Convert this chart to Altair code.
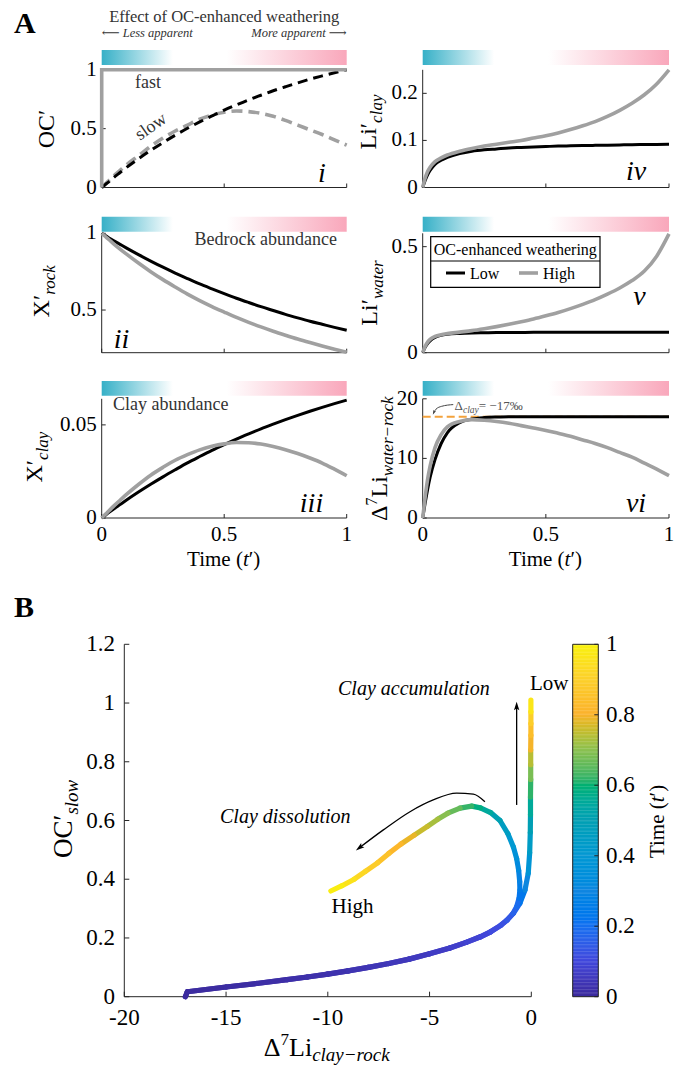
import altair as alt
import pandas as pd

FONT = "Liberation Serif, DejaVu Serif, serif"
INK = "#000000"
AXIS = "#262626"
SOFT = "#333333"
GRAY = "#a0a0a0"
ORANGE = "#f3a23c"
TICK = 21
TICK_B = 23

# ---------------- panel A: normalised time and model curves ----------------
t_grid = [0, 0.01, 0.02, 0.03, 0.05, 0.075, 0.1, 0.15, 0.2, 0.25, 0.3, 0.35,
          0.4, 0.45, 0.5, 0.55, 0.6, 0.65, 0.7, 0.75, 0.8, 0.85, 0.9, 0.95, 1.0]

oc_fast_t = [0, 0, 1]
oc_fast = [0, 1, 1]
oc_slow_low = [0, 0.017, 0.034, 0.05, 0.086, 0.127, 0.168, 0.244, 0.315, 0.381, 0.444, 0.503,
               0.557, 0.608, 0.657, 0.702, 0.745, 0.784, 0.822, 0.856, 0.889, 0.92, 0.948, 0.975, 1.0]
oc_slow_high = [0, 0.02, 0.04, 0.06, 0.1, 0.145, 0.19, 0.27, 0.35, 0.42, 0.48, 0.53,
                0.58, 0.615, 0.64, 0.65, 0.645, 0.63, 0.605, 0.57, 0.53, 0.49, 0.45, 0.405, 0.36]

x_rock_low = [1, 0.99, 0.98, 0.97, 0.951, 0.928, 0.905, 0.861, 0.819, 0.779, 0.741, 0.705,
              0.67, 0.638, 0.607, 0.577, 0.549, 0.522, 0.497, 0.472, 0.449, 0.427, 0.407, 0.387, 0.368]
x_rock_high = [1, 0.986, 0.972, 0.958, 0.93, 0.897, 0.866, 0.806, 0.75, 0.698, 0.65, 0.604,
               0.562, 0.523, 0.487, 0.452, 0.42, 0.39, 0.362, 0.336, 0.311, 0.288, 0.266, 0.245, 0.225]

x_clay_low = [0, 0.001, 0.002, 0.003, 0.0049, 0.0072, 0.0095, 0.0139, 0.0181, 0.0221, 0.0259, 0.0296,
              0.033, 0.0363, 0.0394, 0.0424, 0.0452, 0.0479, 0.0504, 0.0528, 0.0551, 0.0573, 0.0594, 0.0614, 0.0633]
x_clay_high = [0, 0.0013, 0.0026, 0.0039, 0.0065, 0.0095, 0.0125, 0.018, 0.023, 0.0272, 0.031, 0.034,
               0.0366, 0.0385, 0.0398, 0.0405, 0.0404, 0.0397, 0.0384, 0.0367, 0.0346, 0.0322, 0.0295, 0.0262, 0.0227]

li_clay_low = [0, 0.015, 0.027, 0.036, 0.049, 0.058, 0.064, 0.072, 0.077, 0.08, 0.082, 0.084,
               0.085, 0.086, 0.087, 0.088, 0.0885, 0.089, 0.0895, 0.09, 0.0905, 0.091, 0.0912, 0.0915, 0.092]
li_clay_high = [0, 0.02, 0.034, 0.043, 0.055, 0.063, 0.069, 0.077, 0.083, 0.088, 0.092, 0.096,
                0.1, 0.105, 0.11, 0.116, 0.123, 0.131, 0.14, 0.151, 0.164, 0.179, 0.197, 0.22, 0.25]

li_water_low = [0, 0.025, 0.043, 0.056, 0.072, 0.082, 0.087, 0.091, 0.093, 0.094, 0.095, 0.095,
                0.0955, 0.096, 0.096, 0.096, 0.0965, 0.0965, 0.097, 0.097, 0.097, 0.097, 0.097, 0.097, 0.097]
li_water_high = [0, 0.03, 0.05, 0.063, 0.077, 0.085, 0.09, 0.097, 0.104, 0.113, 0.123, 0.134,
                 0.146, 0.159, 0.174, 0.19, 0.208, 0.228, 0.25, 0.276, 0.305, 0.34, 0.385, 0.455, 0.56]

d7li_low = [0, 2.5, 4.8, 6.8, 9.8, 12.5, 14.3, 16.0, 16.6, 16.85, 16.95, 17,
            17, 17, 17, 17, 17, 17, 17, 17, 17, 17, 17, 17, 17]
d7li_high = [0, 3.5, 6.5, 8.7, 11.8, 14.0, 15.3, 16.2, 16.5, 16.4, 16.2, 15.9,
             15.5, 15.1, 14.7, 14.2, 13.7, 13.1, 12.5, 11.8, 11.0, 10.2, 9.2, 8.2, 7.1]

delta_clay = 17  # clay-water fractionation magnitude (per mil)

# ---------------- panel B: trajectories in (D7Li clay-rock, OC'slow) ----------------
b_base_x = [-17.0, -16.9, -15.0, -13.5, -12.0, -11.0, -10.0, -9.0, -8.0, -7.0, -6.0, -5.0,
            -4.0, -3.2, -2.5, -2.0, -1.5, -1.2]
b_base_y = [0.0, 0.017, 0.033, 0.045, 0.058, 0.067, 0.077, 0.088, 0.1, 0.113, 0.128, 0.146,
            0.166, 0.185, 0.204, 0.221, 0.243, 0.26]
b_base_t = [0.0, 0.003, 0.008, 0.012, 0.017, 0.021, 0.026, 0.031, 0.037, 0.043, 0.05, 0.058,
            0.067, 0.077, 0.088, 0.1, 0.112, 0.125]

b_high_x = [-0.9, -0.72, -0.6, -0.56, -0.57, -0.62, -0.72, -0.88, -1.15, -1.54, -2.0, -2.5, -2.93,
            -3.5, -4.1, -4.6, -5.1, -5.75, -6.4, -7.0, -7.55, -8.15, -8.7, -9.3, -9.85]
b_high_y = [0.283, 0.306, 0.335, 0.363, 0.392, 0.43, 0.47, 0.51, 0.555, 0.6, 0.627, 0.643, 0.649,
            0.642, 0.625, 0.604, 0.58, 0.55, 0.52, 0.488, 0.456, 0.427, 0.4, 0.378, 0.36]
b_high_t = [0.15, 0.175, 0.205, 0.24, 0.27, 0.3, 0.34, 0.38, 0.43, 0.48, 0.53, 0.565, 0.6,
            0.64, 0.68, 0.71, 0.74, 0.77, 0.8, 0.835, 0.87, 0.905, 0.94, 0.97, 1.0]

b_low_x = [-0.88, -0.56, -0.31, -0.15, -0.08, -0.05, -0.04, -0.04, -0.03, -0.03, -0.03, -0.02, -0.02, -0.02, -0.02]
b_low_y = [0.284, 0.318, 0.363, 0.42, 0.49, 0.56, 0.62, 0.68, 0.74, 0.79, 0.84, 0.89, 0.93, 0.97, 1.01]
b_low_t = [0.15, 0.2, 0.27, 0.34, 0.42, 0.47, 0.52, 0.58, 0.65, 0.71, 0.77, 0.82, 0.86, 0.93, 1.0]

# annotation arrows in panel B
arrow_up_x = [-0.72, -0.72]
arrow_up_y = [0.653, 0.99]
arrow_arc_x = [-2.28, -2.85, -3.67, -4.82, -5.96, -7.27, -8.45]
arrow_arc_y = [0.664, 0.690, 0.693, 0.670, 0.630, 0.568, 0.507]
# small pointer to the clay fractionation line in panel vi
pointer_t = [0.124, 0.077, 0.054, 0.045]
pointer_v = [19.03, 18.74, 18.26, 17.7]

# ---------------- time colour map ----------------
parula = ["#3b2a9d", "#4148dc", "#1470f0", "#1186e0", "#0a98d2", "#079fb2",
          "#03b06f", "#8dc04f", "#fbb22c", "#fcd02a", "#f8f20c"]
parula_pos = [0, 0.1, 0.2, 0.3, 0.4, 0.5, 0.6, 0.7, 0.8, 0.9, 1.0]

# ---------------- tick labels ----------------
xt_time = [(0, "0"), (0.5, "0.5"), (1, "1")]
yt_i = [(0, "0"), (0.5, "0.5"), (1, "1")]
yt_ii = [(0.5, "0.5"), (1, "1")]
yt_iii = [(0, "0"), (0.05, "0.05")]
yt_iv = [(0, "0"), (0.1, "0.1"), (0.2, "0.2")]
yt_v = [(0, "0"), (0.5, "0.5")]
yt_vi = [(0, "0"), (10, "10"), (20, "20")]
xt_b = [(-20, "-20"), (-15, "-15"), (-10, "-10"), (-5, "-5"), (0, "0")]
yt_b = [(0, "0"), (0.2, "0.2"), (0.4, "0.4"), (0.6, "0.6"), (0.8, "0.8"), (1.0, "1"), (1.2, "1.2")]
ct_b = [(0, "0"), (0.2, "0.2"), (0.4, "0.4"), (0.6, "0.6"), (0.8, "0.8"), (1.0, "1")]

# ---------------- helpers ----------------
ONE = pd.DataFrame({"k": [0]})
GRAD = {"gradient": "linear", "x1": 0, "y1": 0, "x2": 1, "y2": 0,
        "stops": [{"offset": 0, "color": "#36b0c7"}, {"offset": 0.29, "color": "#ffffff"},
                  {"offset": 0.51, "color": "#ffffff"}, {"offset": 1, "color": "#f9a7bb"}]}
HEAD = "M0,-1L0.62,1L0,0.6L-0.62,1Z"

REG = {" ": .25, "(": .333, ")": .333, "-": .333, ".": .25, "=": .564, "\u2212": .564,
       "\u2030": 1.0, "\u2032": .3, "\u0394": .612, "A": .722, "B": .667, "C": .667, "E": .611,
       "H": .722, "L": .611, "O": .722, "T": .611, "X": .722}
ITAL = {" ": .25, "a": .5, "c": .444, "d": .5, "e": .444, "i": .278, "k": .444, "l": .278,
        "n": .5, "o": .5, "r": .389, "s": .389, "t": .278, "w": .667, "y": .444, "m": .722,
        "\u2212": .675}
LOWER = {"a": .444, "b": .5, "c": .444, "d": .5, "e": .444, "f": .333, "g": .5, "h": .5,
         "i": .278, "k": .5, "l": .278, "m": .778, "n": .5, "o": .5, "p": .5, "r": .333,
         "s": .389, "t": .278, "u": .5, "v": .5, "w": .722, "y": .5}


def width(s, size, italic=False):
    total = 0.0
    for ch in s:
        if italic:
            total += ITAL.get(ch, 0.5)
        elif ch in REG:
            total += REG[ch]
        elif ch.isdigit():
            total += 0.5
        else:
            total += LOWER.get(ch, 0.5)
    return total * size


def label(s, x, y, size, align="left", baseline="alphabetic", angle=0,
          italic=False, bold=False, color=INK):
    props = dict(text=s, font=FONT, fontSize=size, align=align, baseline=baseline, color=color)
    if angle:
        props["angle"] = angle
    if italic:
        props["fontStyle"] = "italic"
    if bold:
        props["fontWeight"] = "bold"
    return alt.Chart(ONE).mark_text(**props).encode(x=alt.value(x), y=alt.value(y))


def hrun(pieces, x, y_base, anchor="center", color=INK):
    """Horizontal run of text pieces (text, size, italic, dy)."""
    ws = [width(p[0], p[1], p[2]) for p in pieces]
    start = x - sum(ws) / 2 if anchor == "center" else x
    j = start + ws[0]
    s0, z0, i0, d0 = pieces[0]
    out = [label(s0, j, y_base + d0, z0, align="right", italic=i0, color=color)]
    cur = j
    for (s, z, it, d), w in zip(pieces[1:], ws[1:]):
        out.append(label(s, cur, y_base + d, z, italic=it, color=color))
        cur += w
    return out


def vrun(pieces, x_base, y_center, color=INK):
    """Vertical (bottom-to-top) run of text pieces (text, size, italic, dx)."""
    ws = [width(p[0], p[1], p[2]) for p in pieces]
    j = y_center + sum(ws) / 2 - ws[0]
    s0, z0, i0, d0 = pieces[0]
    out = [label(s0, x_base + d0, j, z0, align="right", angle=270, italic=i0, color=color)]
    cur = j
    for (s, z, it, d), w in zip(pieces[1:], ws[1:]):
        out.append(label(s, x_base + d, cur, z, angle=270, italic=it, color=color))
        cur -= w
    return out


def ticks_df(pairs):
    return pd.DataFrame({"v": [p[0] for p in pairs], "lab": [p[1] for p in pairs]})


def panel(xr, yr, ydom, yticks, bar, xlabels):
    L, R = xr
    B, T = yr
    sx = alt.Scale(domain=[0, 1], range=[L, R], nice=False, zero=False)
    sy = alt.Scale(domain=ydom, range=[B, T], nice=False, zero=False)
    X = lambda f: alt.X(f, scale=sx, axis=None)
    Y = lambda f: alt.Y(f, scale=sy, axis=None)
    frame = pd.DataFrame({"x0": [0.0], "x1": [1.0], "y0": [ydom[0]], "y1": [ydom[1]]})
    xt = ticks_df(xt_time)
    yt = ticks_df(yticks)
    layers = [
        alt.Chart(frame).mark_rect(fill=GRAD).encode(
            x=X("x0:Q"), x2=alt.X2("x1"), y=alt.value(bar[0]), y2=alt.value(bar[1])),
        alt.Chart(frame).mark_rule(color=AXIS, strokeWidth=1).encode(
            x=X("x0:Q"), x2=alt.X2("x1"), y=Y("y0:Q")),
        alt.Chart(frame).mark_rule(color=AXIS, strokeWidth=1).encode(
            x=X("x0:Q"), y=Y("y0:Q"), y2=alt.Y2("y1")),
        alt.Chart(xt).mark_rule(color=AXIS, strokeWidth=1).encode(
            x=X("v:Q"), y=alt.value(B), y2=alt.value(B - 4)),
        alt.Chart(yt).mark_rule(color=AXIS, strokeWidth=1).encode(
            y=Y("v:Q"), x=alt.value(L), x2=alt.value(L + 4)),
        alt.Chart(yt).mark_text(font=FONT, fontSize=TICK, align="right", baseline="middle",
                                color=INK).encode(y=Y("v:Q"), x=alt.value(L - 5), text="lab:N"),
    ]
    if xlabels:
        layers.append(alt.Chart(xt).mark_text(font=FONT, fontSize=TICK, align="center",
                                              baseline="alphabetic", color=INK).encode(
            x=X("v:Q"), y=alt.value(541), text="lab:N"))
    return layers, X, Y


def curve(df, col, X, Y, color, width_px, dash=None):
    props = dict(color=color, strokeWidth=width_px, interpolate="monotone")
    if dash:
        props["strokeDash"] = dash
    return alt.Chart(df).mark_line(**props).encode(x=X("t:Q"), y=Y(f"{col}:Q"))


series = pd.DataFrame({
    "t": t_grid, "oc_low": oc_slow_low, "oc_high": oc_slow_high,
    "rock_low": x_rock_low, "rock_high": x_rock_high,
    "clay_low": x_clay_low, "clay_high": x_clay_high,
    "lic_low": li_clay_low, "lic_high": li_clay_high,
    "liw_low": li_water_low, "liw_high": li_water_high,
    "d_low": d7li_low, "d_high": d7li_high,
})

COLS = {"L": (101.7, 346.7), "R": (422.7, 669.0)}
ROWS = {1: ((187.5, 69.8), (50, 65)), 2: ((352.7, 233.3), (216.7, 231.7)), 3: ((518.0, 398.8), (381, 395.7))}

top_children = []
decor = []

# ---- (i) organic carbon ----
lay, X, Y = panel(COLS["L"], ROWS[1][0], [0, 1], yt_i, ROWS[1][1], False)
fast = pd.DataFrame({"t": oc_fast_t, "v": oc_fast, "i": [0, 1, 2]})
lay += [
    curve(series, "oc_high", X, Y, GRAY, 3.6, [11, 6]),
    curve(series, "oc_low", X, Y, INK, 3, [10, 6]),
    alt.Chart(fast).mark_line(color=GRAY, strokeWidth=3.6).encode(
        x=X("t:Q"), y=Y("v:Q"), order=alt.Order("i:Q")),
]
top_children.append(alt.layer(*lay))
decor += vrun([("OC\u2032", 24, False, 0)], 53.5, 130)
decor += [label("fast", 135, 88, 18, color=SOFT),
          label("slow", 151, 127, 18, align="center", baseline="middle", angle=325, color=SOFT),
          label("i", 322, 182, 28, align="center", italic=True)]

# ---- (ii) bedrock ----
lay, X, Y = panel(COLS["L"], ROWS[2][0], [0.222, 1], yt_ii, ROWS[2][1], False)
lay += [curve(series, "rock_low", X, Y, INK, 3), curve(series, "rock_high", X, Y, GRAY, 3.6)]
top_children.append(alt.layer(*lay))
decor += vrun([("X\u2032", 24, False, 0), ("rock", 17, True, 6)], 48.5, 292)
decor += [label("Bedrock abundance", 337, 245, 18, align="right", color=SOFT),
          label("ii", 121.5, 348, 28, align="center", italic=True)]

# ---- (iii) clay ----
lay, X, Y = panel(COLS["L"], ROWS[3][0], [0, 0.064], yt_iii, ROWS[3][1], True)
lay += [curve(series, "clay_low", X, Y, INK, 3), curve(series, "clay_high", X, Y, GRAY, 3.6)]
top_children.append(alt.layer(*lay))
decor += vrun([("X\u2032", 24, False, 0), ("clay", 17, True, 6)], 42, 458)
decor += [label("Clay abundance", 113, 410, 18, color=SOFT),
          label("iii", 311.5, 512, 28, align="center", italic=True)]
decor += hrun([("Time (", 21, False, 0), ("t", 21, True, 0), ("\u2032)", 21, False, 0)], 224.2, 566)

# ---- (iv) Li in clay ----
lay, X, Y = panel(COLS["R"], ROWS[1][0], [0, 0.25], yt_iv, ROWS[1][1], False)
lay += [curve(series, "lic_low", X, Y, INK, 3), curve(series, "lic_high", X, Y, GRAY, 3.6)]
top_children.append(alt.layer(*lay))
decor += vrun([("Li\u2032", 24, False, 0), ("clay", 17, True, 6)], 376, 123)
decor += [label("iv", 636, 180, 28, align="center", italic=True)]

# ---- (v) Li in water ----
lay, X, Y = panel(COLS["R"], ROWS[2][0], [0, 0.563], yt_v, ROWS[2][1], False)
lay += [curve(series, "liw_low", X, Y, INK, 3), curve(series, "liw_high", X, Y, GRAY, 3.6)]
top_children.append(alt.layer(*lay))
decor += vrun([("Li\u2032", 24, False, 0), ("water", 17, True, 6)], 376.7, 294)
decor += [label("v", 639.5, 305, 28, align="center", italic=True)]
# legend box
decor += [
    alt.Chart(ONE).mark_rect(fill="white", stroke=INK, strokeWidth=1.2).encode(
        x=alt.value(430.7), x2=alt.value(600), y=alt.value(236.7), y2=alt.value(287.3)),
    alt.Chart(ONE).mark_rule(color=INK, strokeWidth=1).encode(
        x=alt.value(430.7), x2=alt.value(600), y=alt.value(261)),
    label("OC-enhanced weathering", 515.3, 255, 16, align="center"),
    alt.Chart(ONE).mark_rule(color=INK, strokeWidth=3).encode(
        x=alt.value(446), x2=alt.value(465), y=alt.value(273)),
    label("Low", 470, 279, 16),
    alt.Chart(ONE).mark_rule(color=GRAY, strokeWidth=3.6).encode(
        x=alt.value(519), x2=alt.value(538), y=alt.value(273)),
    label("High", 543, 279, 16),
]

# ---- (vi) Li isotope offset ----
lay, X, Y = panel(COLS["R"], ROWS[3][0], [0, 20], yt_vi, ROWS[3][1], True)
ref = pd.DataFrame({"x0": [0.0], "x1": [1.0], "v": [delta_clay]})
ptr = pd.DataFrame({"t": pointer_t, "v": pointer_v})
lay += [
    alt.Chart(ref).mark_rule(color=ORANGE, strokeWidth=2, strokeDash=[8, 4]).encode(
        x=X("x0:Q"), x2=alt.X2("x1"), y=Y("v:Q")),
    curve(series, "d_low", X, Y, INK, 3),
    curve(series, "d_high", X, Y, GRAY, 3.6),
    alt.Chart(ptr).mark_line(color="#444444", strokeWidth=1, interpolate="monotone").encode(
        x=X("t:Q"), y=Y("v:Q")),
    alt.Chart(ptr.tail(1)).mark_point(shape=HEAD, filled=True, size=22, angle=205,
                                      color="#444444", opacity=1).encode(x=X("t:Q"), y=Y("v:Q")),
]
top_children.append(alt.layer(*lay))
decor += vrun([("\u0394", 24, False, 0), ("7", 16, False, -10), ("Li", 24, False, 0),
               ("water\u2212rock", 17, True, 6)], 386.7, 458)
decor += [label("vi", 636, 512, 28, align="center", italic=True)]
decor += hrun([("\u0394", 13, False, 0), ("clay", 9.5, True, 3), (" = \u221217\u2030", 13, False, 0)],
              455, 410, anchor="left", color="#555555")
decor += hrun([("Time (", 21, False, 0), ("t", 21, True, 0), ("\u2032)", 21, False, 0)], 545.9, 566)

# ---- header of panel A ----
decor += [
    label("A", 14, 33, 30, bold=True),
    label("Effect of OC-enhanced weathering", 224.2, 22, 16.5, align="center", color=SOFT),
    label("\u27f5 Less apparent", 101.7, 37, 12.5, italic=True, color=SOFT),
    label("More apparent \u27f6", 346.7, 37, 12.5, align="right", italic=True, color=SOFT),
    label("B", 14, 617, 30, bold=True),
]

# ---------------- panel B ----------------
BX = (124.3, 531.3)
BY = (996.7, 644.3)
bx = alt.Scale(domain=[-20, 0], range=list(BX), nice=False, zero=False)
by = alt.Scale(domain=[0, 1.2], range=list(BY), nice=False, zero=False)
cs = alt.Scale(domain=parula_pos, range=parula)
XB = lambda f: alt.X(f, scale=bx, axis=None)
YB = lambda f: alt.Y(f, scale=by, axis=None)


def segments(xs, ys, ts):
    rows = []
    for k in range(len(xs) - 1):
        rows.append({"x": xs[k], "y": ys[k], "xe": xs[k + 1], "ye": ys[k + 1],
                     "t": (ts[k] + ts[k + 1]) / 2})
    return pd.DataFrame(rows)


seg_low = segments(b_base_x + b_low_x, b_base_y + b_low_y, b_base_t + b_low_t)
seg_high = segments(b_base_x + b_high_x, b_base_y + b_high_y, b_base_t + b_high_t)
bframe = pd.DataFrame({"x0": [-20.0], "x1": [0.0], "y0": [0.0], "y1": [1.2]})
bxt = ticks_df(xt_b)
byt = ticks_df(yt_b)
up = pd.DataFrame({"x": arrow_up_x, "y": arrow_up_y})
arc = pd.DataFrame({"x": arrow_arc_x, "y": arrow_arc_y})


def seg_layer(df):
    return alt.Chart(df).mark_rule(strokeWidth=5.2, strokeCap="round").encode(
        x=XB("x:Q"), y=YB("y:Q"), x2=alt.X2("xe"), y2=alt.Y2("ye"),
        color=alt.Color("t:Q", scale=cs, legend=None))


b_layers = [
    alt.Chart(bframe).mark_rule(color=AXIS, strokeWidth=1).encode(
        x=XB("x0:Q"), x2=alt.X2("x1"), y=YB("y0:Q")),
    alt.Chart(bframe).mark_rule(color=AXIS, strokeWidth=1).encode(
        x=XB("x0:Q"), y=YB("y0:Q"), y2=alt.Y2("y1")),
    alt.Chart(bxt).mark_rule(color=AXIS, strokeWidth=1).encode(
        x=XB("v:Q"), y=alt.value(BY[0]), y2=alt.value(BY[0] - 5)),
    alt.Chart(byt).mark_rule(color=AXIS, strokeWidth=1).encode(
        y=YB("v:Q"), x=alt.value(BX[0]), x2=alt.value(BX[0] + 5)),
    alt.Chart(bxt).mark_text(font=FONT, fontSize=TICK_B, align="center", baseline="alphabetic",
                             color=INK).encode(x=XB("v:Q"), y=alt.value(1025), text="lab:N"),
    alt.Chart(byt).mark_text(font=FONT, fontSize=TICK_B, align="right", baseline="middle",
                             color=INK).encode(y=YB("v:Q"), x=alt.value(115), text="lab:N"),
    seg_layer(seg_low),
    seg_layer(seg_high),
    alt.Chart(up).mark_line(color=INK, strokeWidth=1.3).encode(x=XB("x:Q"), y=YB("y:Q")),
    alt.Chart(up.tail(1)).mark_point(shape=HEAD, filled=True, size=75, angle=0, color=INK,
                                     opacity=1).encode(x=XB("x:Q"), y=YB("y:Q")),
    alt.Chart(arc).mark_line(color=INK, strokeWidth=1.3, interpolate="monotone").encode(
        x=XB("x:Q"), y=YB("y:Q")),
    alt.Chart(arc.tail(1)).mark_point(shape=HEAD, filled=True, size=75, angle=233, color=INK,
                                      opacity=1).encode(x=XB("x:Q"), y=YB("y:Q")),
]
top_children.append(alt.layer(*b_layers))

decor += vrun([("OC\u2032", 27, False, 0), ("slow", 19, True, 6)], 72, 820)
decor += hrun([("\u0394", 26, False, 0), ("7", 17, False, -11), ("Li", 26, False, 0),
               ("clay\u2212rock", 19, True, 5)], 327.5, 1056)
decor += [
    label("Clay accumulation", 338, 695, 20, italic=True),
    label("Low", 530, 690, 21),
    label("Clay dissolution", 220, 823, 20, italic=True),
    label("High", 331.5, 913, 21),
]

# ---------------- colour bar for time ----------------
CB = (572.7, 598.3)
cy = alt.Scale(domain=[0, 1], range=list(BY), nice=False, zero=False)
cbt = ticks_df(ct_b)
cb_frame = pd.DataFrame({"a": [0.0], "b": [1.0]})
cbar = alt.layer(
    alt.Chart(alt.sequence(0, 1, 0.004, as_="t")).transform_calculate(
        te="min(datum.t + 0.0048, 1)").mark_rect(strokeWidth=0).encode(
        x=alt.value(CB[0]), x2=alt.value(CB[1]),
        y=alt.Y("t:Q", scale=cy, axis=None), y2=alt.Y2("te"),
        color=alt.Color("t:Q", scale=cs, legend=None)),
    alt.Chart(cb_frame).mark_rect(fillOpacity=0, stroke="#222222", strokeWidth=1).encode(
        x=alt.value(CB[0]), x2=alt.value(CB[1]), y=alt.Y("a:Q", scale=cy, axis=None), y2=alt.Y2("b")),
    alt.Chart(cbt).mark_rule(color="#222222", strokeWidth=1).encode(
        y=alt.Y("v:Q", scale=cy, axis=None), x=alt.value(CB[1] - 4), x2=alt.value(CB[1])),
    alt.Chart(cbt).mark_text(font=FONT, fontSize=TICK_B, align="left", baseline="middle",
                             color=INK).encode(y=alt.Y("v:Q", scale=cy, axis=None),
                                               x=alt.value(606), text="lab:N"),
)
top_children.append(cbar)
decor += vrun([("Time (", 21, False, 0), ("t", 21, True, 0), ("\u2032)", 21, False, 0)], 664, 821)

chart = alt.layer(*top_children, *decor).resolve_scale(
    x="independent", y="independent"
).properties(
    width=686, height=1067, padding=0, autosize=alt.AutoSizeParams(type="none")
).configure_view(stroke=None)

chart.save("out.html", embed_options={"renderer": "svg", "actions": False})
